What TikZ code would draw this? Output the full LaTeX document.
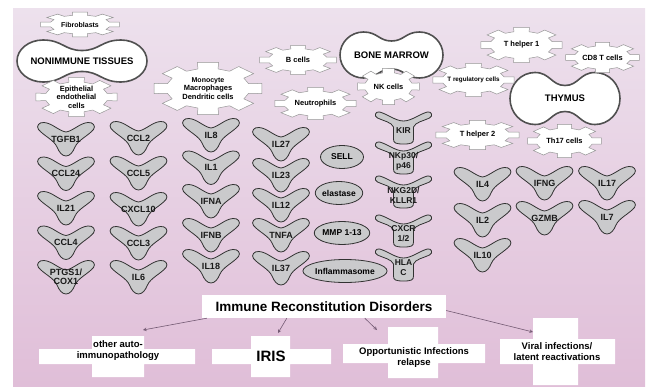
\documentclass[tikz,border=0pt]{standalone}
\usepackage{fontspec}
\setmainfont{Liberation Sans}
\usetikzlibrary{shapes.geometric}

\definecolor{bgtop}{RGB}{237,225,237}
\definecolor{bgbot}{RGB}{224,190,216}
\definecolor{ligfill}{RGB}{202,202,204}
\definecolor{ligedge}{RGB}{50,50,50}
\definecolor{gearedge}{RGB}{150,150,150}
\definecolor{blobedge}{RGB}{80,80,80}
\definecolor{arrowcol}{RGB}{115,90,115}

\tikzset{
  ligandline/.style={draw=ligedge, fill=ligfill, line width=0.8pt},
  gearline/.style={draw=gearedge, fill=white, line width=0.5pt},
  blobline/.style={draw=blobedge, fill=white, line width=1.6pt},
  celltext/.style={font=\fontsize{9}{9}\selectfont\bfseries, inner sep=0pt, align=center, text=black!90},
  geartext/.style={font=\fontsize{7.5}{8.5}\selectfont\bfseries, inner sep=0pt, align=center},
  blobtext/.style={font=\fontsize{9.5}{11}\selectfont\bfseries, inner sep=0pt},
  enzyme/.style={ellipse, draw=ligedge, fill=ligfill, line width=0.8pt, inner sep=0pt,
    minimum height=23pt, font=\fontsize{8.5}{10}\selectfont\bfseries},
  crossbar/.style={fill=white},
  crosstext/.style={font=\fontsize{9.5}{11}\selectfont\bfseries, align=center, inner sep=0pt},
  irdbox/.style={fill=white, minimum width=244pt, minimum height=23pt, inner sep=0pt,
    font=\fontsize{13.5}{15}\selectfont\bfseries},
  irdarrow/.style={draw=arrowcol, line width=0.6pt, ->, >=stealth},
  pics/ligand/.style={code={
    \draw[ligandline] (-22,-16.5) .. controls (-14,-16) and (-7,-8) .. (0,-7)
      .. controls (7,-8) and (14,-16) .. (22,-16.5)
      .. controls (27,-17) and (30,-13) .. (27.5,-9.5)
      .. controls (22,-3) and (12,1) .. (9,8)
      .. controls (7,13) and (4,17) .. (0,17)
      .. controls (-4,17) and (-7,13) .. (-9,8)
      .. controls (-12,1) and (-22,-3) .. (-27.5,-9.5)
      .. controls (-30,-13) and (-27,-17) .. (-22,-16.5) -- cycle;
    \node[celltext] (-t) at (0,0) {#1};
  }},
  pics/receptor/.style={code={
    \draw[ligandline] (-24,-16) .. controls (-16,-14) and (-8,-7) .. (0,-7)
      .. controls (8,-7) and (16,-14) .. (24,-16)
      .. controls (28,-17) and (30,-12) .. (26,-10)
      .. controls (20,-7) and (12,-6) .. (10,-1)
      -- (10,11) .. controls (10,15) and (8,16) .. (0,16)
      .. controls (-8,16) and (-10,15) .. (-10,11)
      -- (-10,-1) .. controls (-12,-6) and (-20,-7) .. (-26,-10)
      .. controls (-30,-12) and (-28,-17) .. (-24,-16) -- cycle;
    \node[celltext, font=\fontsize{8.5}{10}\selectfont\bfseries] (-t) at (0,3) {#1};
  }},
  pics/gear/.style n args={3}{code={
    \draw[gearline] ({#1*0.76*cos(-14)},{#2*0.76*sin(-14)})
      \foreach \a in {0,45,...,315} {
        -- ({#1*cos(\a-11)},{#2*sin(\a-11)}) -- ({#1*cos(\a+11)},{#2*sin(\a+11)})
        -- ({#1*0.76*cos(\a+14)},{#2*0.76*sin(\a+14)}) -- ({#1*0.76*cos(\a+31)},{#2*0.76*sin(\a+31)})
      } -- cycle;
    \node[geartext] (-t) at (0,0) {#3};
  }},
  pics/blob/.style n args={5}{code={
    \draw[blobline] (0,-#4) .. controls ({0.45*#3},-#4) and ({0.5*#3},-#2) .. (#3,-#2)
      .. controls ({#3+0.5523*(#1-#3)},-#2) and (#1,{-0.5523*#2}) .. (#1,0)
      .. controls (#1,{0.5523*#2}) and ({#3+0.5523*(#1-#3)},#2) .. (#3,#2)
      .. controls ({0.5*#3},#2) and ({0.45*#3},#4) .. (0,#4)
      .. controls ({-0.45*#3},#4) and ({-0.5*#3},#2) .. (-#3,#2)
      .. controls ({-#3-0.5523*(#1-#3)},#2) and (-#1,{0.5523*#2}) .. (-#1,0)
      .. controls (-#1,{-0.5523*#2}) and ({-#3-0.5523*(#1-#3)},-#2) .. (-#3,-#2)
      .. controls ({-0.5*#3},-#2) and ({-0.45*#3},-#4) .. (0,-#4) -- cycle;
    \node[blobtext] (-t) at (0,0) {#5};
  }}
}

\begin{document}
\begin{tikzpicture}[x=1pt, y=-1pt]
  \useasboundingbox (0,0) rectangle (651,388);
  \shade[top color=bgtop, bottom color=bgbot] (13,8) rectangle (645,386);

  % TOP
  \pic (nonimm) at (82,61) {blob={65}{21}{39}{10.5}{NONIMMUNE TISSUES}};
  \pic (bonem) at (391.5,55) {blob={51.5}{23}{28}{14}{BONE MARROW}};
  \pic (thymus) at (565,98.5) {blob={55}{26}{30}{13}{THYMUS}};

  \pic (fibro) at (80,24.5) {gear={40}{12.5}{\fontsize{7}{8}\selectfont Fibroblasts}};
  \pic (epith) at (76.5,97) {gear={41.5}{20}{Epithelial\\endothelial\\cells}};
  \pic (mono) at (208,88.5) {gear={55}{26.5}{\fontsize{7}{8}\selectfont Monocyte\\Macrophages\\Dendritic cells}};
  \pic (bcell) at (298,60) {gear={39}{15}{B cells}};
  \pic (neutro) at (315.5,103.5) {gear={41.5}{16.5}{Neutrophils}};
  \pic (nkcell) at (388.5,86.5) {gear={31.5}{18.5}{NK cells}};
  \pic (thone) at (521.5,45) {gear={41.5}{18}{T helper 1}};
  \pic (cdeight) at (602.5,57.5) {gear={37.5}{15.5}{CD8 T cells}};
  \pic (treg) at (473.5,80) {gear={41.5}{17}{\fontsize{6.3}{7}\selectfont T regulatory cells}};
  \pic (thtwo) at (477.5,135) {gear={42.5}{15}{T helper 2}};
  \pic (thsvt) at (564.5,141) {gear={37.5}{17}{Th17 cells}};

  % MIDDLE
  \pic (tgfb) at (66,139) {ligand={TGFB1}};
  \pic (ccltf) at (66,173.5) {ligand={CCL24}};
  \pic (iltwone) at (66,208) {ligand={IL21}};
  \pic (cclfour) at (66,242.5) {ligand={CCL4}};
  \pic (ptgs) at (66,277) {ligand={PTGS1/\\COX1}};

  \pic (ccltwo) at (138.5,138) {ligand={CCL2}};
  \pic (cclfive) at (138.5,173) {ligand={CCL5}};
  \pic (cxcl) at (138.5,209) {ligand={CXCL10}};
  \pic (cclthree) at (138.5,243) {ligand={CCL3}};
  \pic (ilsix) at (138.5,277) {ligand={IL6}};

  \pic (ileight) at (211,135) {ligand={IL8}};
  \pic (ilone) at (211,167.5) {ligand={IL1}};
  \pic (ifna) at (211,201) {ligand={IFNA}};
  \pic (ifnb) at (211,235) {ligand={IFNB}};
  \pic (ileighteen) at (211,266) {ligand={IL18}};

  \pic (iltwsev) at (281,144) {ligand={IL27}};
  \pic (iltwthr) at (281,175) {ligand={IL23}};
  \pic (iltwelve) at (281,205) {ligand={IL12}};
  \pic (tnfa) at (281,235) {ligand={TNFA}};
  \pic (ilthsev) at (281,268) {ligand={IL37}};

  \node[enzyme, minimum width=43pt] (sell) at (342,157) {SELL};
  \node[enzyme, minimum width=41pt] (elast) at (339,193) {elastase};
  \node[enzyme, minimum width=50pt] (mmp) at (342,233) {MMP 1-13};
  \node[enzyme, minimum width=76pt] (inflam) at (345,271) {Inflammasome};

  \pic (kir) at (403.5,128) {receptor={KIR}};
  \pic (nkp) at (403.5,158) {receptor={NKp30/\\p46}};
  \pic (nkg) at (403.5,192) {receptor={NKG2D/\\KLLR1}};
  \pic (cxcr) at (403.5,231) {receptor={CXCR\\1/2}};
  \pic (hla) at (403.5,265) {receptor={HLA\\C}};

  \pic (ilfour) at (482.5,184) {ligand={IL4}};
  \pic (iltwo) at (482.5,220) {ligand={IL2}};
  \pic (ilten) at (482.5,255) {ligand={IL10}};
  \pic (ifng) at (544.5,183) {ligand={IFNG}};
  \pic (gzmb) at (544.5,218) {ligand={GZMB}};
  \pic (ilsvt) at (607,183) {ligand={IL17}};
  \pic (ilseven) at (607,217) {ligand={IL7}};

  % BOTTOM
  \node[irdbox] (ird) at (324,306.5) {Immune Reconstitution Disorders};

  \fill[crossbar] (39,349) rectangle (195,364) (92,336) rectangle (144,377);
  \node[crosstext] (autoimm) at (118,351) {other auto-\\immunopathology};
  \fill[crossbar] (212,349) rectangle (331,364) (251,336) rectangle (290,377);
  \node[crosstext, font=\fontsize{15}{17}\selectfont\bfseries] (iris) at (271,356.5) {IRIS};
  \fill[crossbar] (343,344) rectangle (485,363) (388,327) rectangle (438,378);
  \node[crosstext] (opport) at (414,358) {Opportunistic Infections\\relapse};
  \fill[crossbar] (500,339) rectangle (615,364) (533,318) rectangle (578,385);
  \node[crosstext] (viral) at (557,351.5) {Viral infections/\\latent reactivations};

  \coordinate (toauto) at (143,330);
  \coordinate (toiris) at (278,333);
  \coordinate (toopp) at (377,330);
  \coordinate (toviral) at (533,332);
  \draw[irdarrow] ([xshift=5pt]ird.south west) -- (toauto);
  \draw[irdarrow] ([xshift=85pt]ird.south west) -- (toiris);
  \draw[irdarrow] ([xshift=163pt]ird.south west) -- (toopp);
  \draw[irdarrow] ([yshift=-4pt]ird.east) -- (toviral);

\end{tikzpicture}
\end{document}
